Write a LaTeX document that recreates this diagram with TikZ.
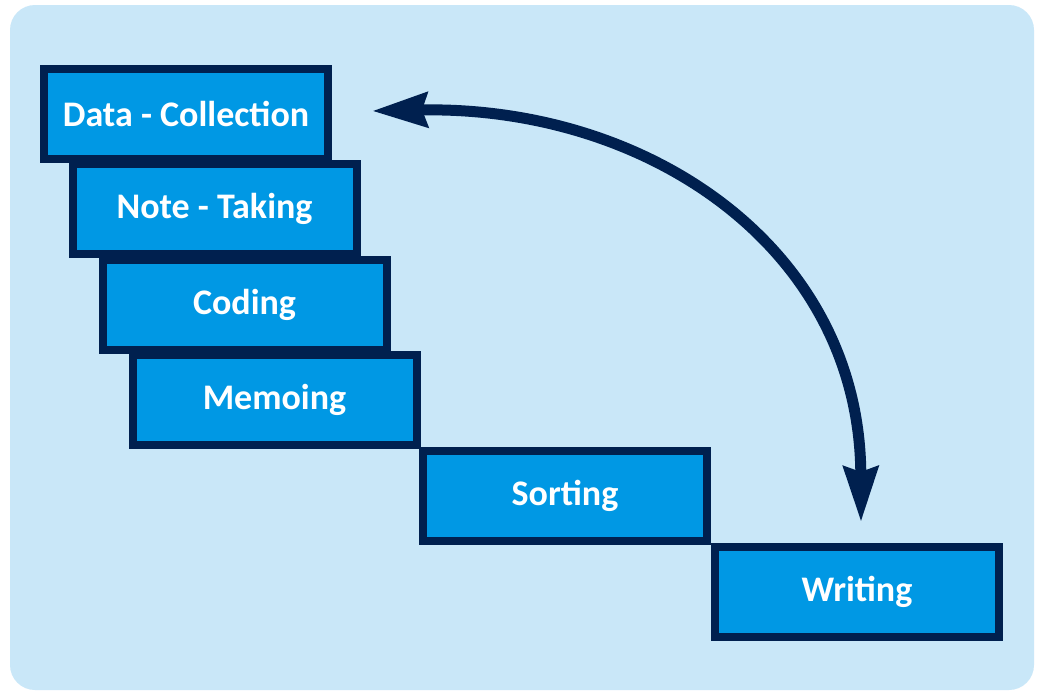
\documentclass[tikz,border=0pt]{standalone}
\usepackage{fontspec}
\setmainfont{Carlito}
\usetikzlibrary{arrows.meta,shadows}
\definecolor{bgblue}{HTML}{C9E7F8}
\definecolor{boxblue}{HTML}{0098E4}
\definecolor{navy}{HTML}{00204F}
\tikzset{
  stagebox/.style={draw=navy, line width=8pt, fill=boxblue, minimum width=284pt, minimum height=90pt,
    inner sep=0pt, text=white, font=\fontsize{36}{42}\selectfont\bfseries,
    drop shadow={shadow xshift=4pt, shadow yshift=-4pt, fill=black, opacity=0.35}},
  bigarrow/.style={draw=navy, line width=11pt, {Stealth[length=55pt,width=34pt,inset=5pt]}-{Stealth[length=55pt,width=34pt,inset=5pt]}}
}
\begin{document}
\begin{tikzpicture}[x=1pt,y=-1pt]
\useasboundingbox (0,0) rectangle (1037,697);
\fill[white] (0,0) rectangle (1037,697);
\fill[bgblue, rounded corners=25pt] (10,5) rectangle (1034,690);
\node[stagebox] (dc) at (186,114) {Data - Collection};
\node[stagebox] (nt) at (214.5,209) {Note - Taking};
\node[stagebox] (cd) at (244.5,305) {Coding};
\node[stagebox] (mm) at (274.5,400) {Memoing};
\node[stagebox] (st) at (565,496) {Sorting};
\node[stagebox] (wr) at (857,592) {Writing};
\coordinate (a1) at (372,111);
\coordinate (a2) at (861,522);
\draw[bigarrow] (a1) .. controls (650,105) and (860,250) .. (a2);
\end{tikzpicture}
\end{document}
